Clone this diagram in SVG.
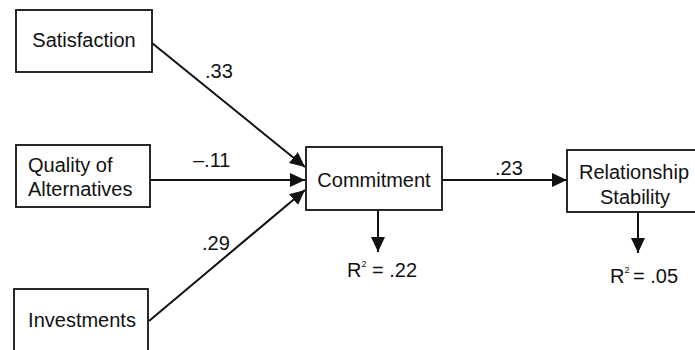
<svg xmlns="http://www.w3.org/2000/svg" width="695" height="350" viewBox="0 0 695 350">
<style>
  .box { fill: #fff; stroke: #111; stroke-width: 1.8; }
  .lbl { font-family: "Liberation Sans", Arial, sans-serif; font-size: 20px; fill: #111; }
  .mid { text-anchor: middle; }
  .edge { stroke: #111; stroke-width: 2; fill: none; marker-end: url(#ah); }
</style>
<defs>
  <marker id="ah" markerUnits="userSpaceOnUse" markerWidth="15" markerHeight="14" refX="15" refY="7" orient="auto">
    <path d="M0,0 L15,7 L0,14 z" fill="#111"/>
  </marker>
</defs>
<rect width="695" height="350" fill="#fff"/>
<g id="connectors">
  <line class="edge" x1="152" y1="43" x2="305" y2="167"/>
  <line class="edge" x1="150" y1="180" x2="305" y2="180"/>
  <line class="edge" x1="149" y1="321" x2="305" y2="190"/>
  <line class="edge" x1="442" y1="180" x2="567" y2="180"/>
  <line class="edge" x1="378" y1="210" x2="378" y2="252"/>
  <line class="edge" x1="638" y1="212" x2="638" y2="253"/>
  <text class="lbl" x="205" y="78">.33</text>
  <text class="lbl" x="193" y="167">–.11</text>
  <text class="lbl" x="202" y="250">.29</text>
  <text class="lbl" x="495" y="175">.23</text>
</g>
<g id="satisfaction">
  <rect class="box" x="16" y="10" width="136" height="62"/>
  <text class="lbl mid" x="84" y="47">Satisfaction</text>
</g>
<g id="quality">
  <rect class="box" x="16" y="145" width="134" height="62"/>
  <text class="lbl" x="28" y="172">Quality of</text>
  <text class="lbl" x="28" y="196">Alternatives</text>
</g>
<g id="investments">
  <rect class="box" x="14" y="289" width="134" height="70"/>
  <text class="lbl mid" x="82" y="327">Investments</text>
</g>
<g id="commitment">
  <rect class="box" x="306" y="147" width="136" height="63"/>
  <text class="lbl mid" x="374" y="187">Commitment</text>
</g>
<g id="stability">
  <rect class="box" x="567" y="150" width="136" height="62"/>
  <text class="lbl mid" x="634" y="179">Relationship</text>
  <text class="lbl mid" x="635" y="204">Stability</text>
</g>
<g id="r2-commitment">
  <text class="lbl" x="347" y="277">R<tspan font-size="9" dy="-10">2</tspan><tspan x="372" dy="10">= .22</tspan></text>
</g>
<g id="r2-stability">
  <text class="lbl" x="610" y="283">R<tspan font-size="9" dy="-10">2</tspan><tspan x="633" dy="10">= .05</tspan></text>
</g>
</svg>
